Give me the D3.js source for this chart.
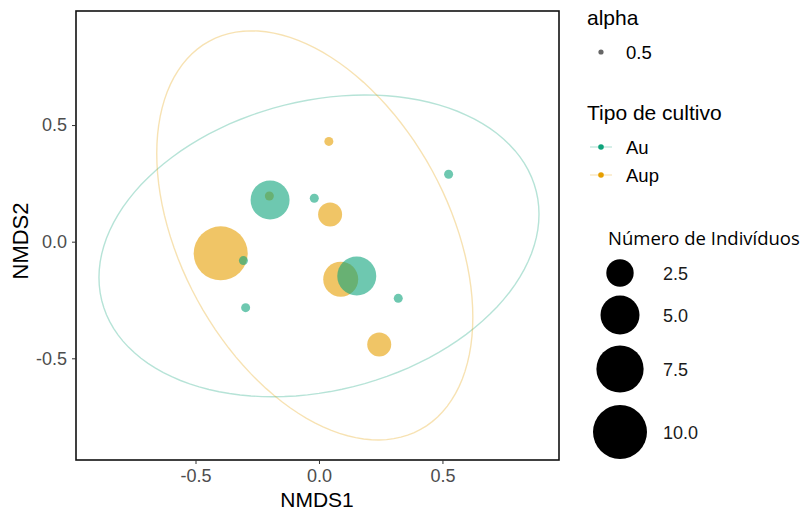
<!DOCTYPE html>
<meta charset="utf-8">
<style>
  body { margin: 0; background: #fff; }
  text { font-family: "Liberation Sans", Arial, sans-serif; }
  .tick text { fill: #4d4d4d; font-size: 18px; }
  .tick line { stroke: #333; }
  .domain { display: none; }
</style>
<svg width="804" height="510"></svg>
<script src="https://d3js.org/d3.v7.min.js"></script>
<script>

// Au (teal)
var auX = [0.525, -0.198, -0.019, -0.306, -0.297, 0.153, 0.321];
var auY = [0.289, 0.179, 0.186, -0.081, -0.283, -0.147, -0.243];
var auN = [1, 5, 1, 1, 1, 5, 1];

// Aup (orange)
var aupX = [0.040, 0.045, -0.398, 0.088, 0.244, -0.201];
var aupY = [0.430, 0.117, -0.050, -0.161, -0.441, 0.196];
var aupN = [1, 2, 10, 4, 2, 1];

var groups = ["Au", "Aup"];
var colors = ["#0ea37b", "#e69f00"];

// ellipses: center, half extents, correlation
var ellCx = [0.0, -0.017];
var ellCy = [-0.018, 0.027];
var ellXr = [0.891, 0.640];
var ellYr = [0.647, 0.877];
var ellRho = [0.21, -0.40];

var tickVals = [-0.5, 0, 0.5];
var sizeBreaks = [2.5, 5, 7.5, 10];

var svg = d3.select("svg");
var pLeft = 76, pRight = 559, pTop = 11, pBottom = 460;

var x = d3.scaleLinear().domain([-0.984, 0.972]).range([pLeft, pRight]);
var y = d3.scaleLinear().domain([-0.936, 0.989]).range([pBottom, pTop]);

var sizeT = d3.scaleLinear().domain([1, 10]).range([0, 1]);
var sizeR = d3.scaleSqrt().domain([0, 1]).range([4.5, 27]);
function rad(n) { return sizeR(sizeT(n)); }

svg.append("rect").attr("width", 804).attr("height", 510).attr("fill", "#fff");

var data = [];
aupX.forEach(function(v, i) { data.push({g: 1, x: v, y: aupY[i], n: aupN[i]}); });
auX.forEach(function(v, i) { data.push({g: 0, x: v, y: auY[i], n: auN[i]}); });

// ellipses
var line = d3.line().x(function(d) { return x(d[0]); }).y(function(d) { return y(d[1]); }).curve(d3.curveLinearClosed);
groups.forEach(function(g, k) {
  var pts = d3.range(0, 120).map(function(i) {
    var t = i / 120 * 2 * Math.PI;
    return [ellCx[k] + ellXr[k] * Math.cos(t),
            ellCy[k] + ellYr[k] * (ellRho[k] * Math.cos(t) + Math.sqrt(1 - ellRho[k] * ellRho[k]) * Math.sin(t))];
  });
  svg.append("path").attr("d", line(pts))
    .attr("fill", "none").attr("stroke", colors[k])
    .attr("stroke-opacity", 0.3).attr("stroke-width", 1.4);
});

svg.selectAll(".pt").data(data).enter().append("circle")
  .attr("class", "pt")
  .attr("cx", function(d) { return x(d.x); })
  .attr("cy", function(d) { return y(d.y); })
  .attr("r", function(d) { return rad(d.n); })
  .attr("fill", function(d) { return colors[d.g]; })
  .attr("fill-opacity", 0.6);

// panel border
svg.append("rect").attr("x", pLeft).attr("y", pTop)
  .attr("width", pRight - pLeft).attr("height", pBottom - pTop)
  .attr("fill", "none").attr("stroke", "#111").attr("stroke-width", 1.6);

var fmt = function(d) { return d.toFixed(1); };
svg.append("g").attr("transform", "translate(0," + pBottom + ")")
  .call(d3.axisBottom(x).tickValues(tickVals).tickFormat(fmt).tickSize(4).tickPadding(5.5))
  .attr("font-family", null).attr("font-size", null);
svg.append("g").attr("transform", "translate(" + pLeft + ",0)")
  .call(d3.axisLeft(y).tickValues(tickVals).tickFormat(fmt).tickSize(4).tickPadding(5))
  .attr("font-family", null).attr("font-size", null);

svg.append("text").attr("x", 317).attr("y", 507).attr("text-anchor", "middle")
  .attr("font-size", 21).text("NMDS1");
svg.append("text").attr("transform", "translate(28,241) rotate(-90)").attr("text-anchor", "middle")
  .attr("font-size", 22).text("NMDS2");

// legends
var lg = svg.append("g");
lg.append("text").attr("x", 587).attr("y", 25).attr("font-size", 21).text("alpha");
lg.append("circle").attr("cx", 601).attr("cy", 52).attr("r", 2.6).attr("fill", "#666");
lg.append("text").attr("x", 626).attr("y", 58.5).attr("font-size", 18.5).text("0.5");

lg.append("text").attr("x", 587).attr("y", 120).attr("font-size", 21).text("Tipo de cultivo");
groups.forEach(function(g, k) {
  var cy = 147 + k * 28;
  lg.append("line").attr("x1", 590).attr("x2", 612).attr("y1", cy).attr("y2", cy)
    .attr("stroke", colors[k]).attr("stroke-opacity", 0.25).attr("stroke-width", 1.4);
  lg.append("circle").attr("cx", 601).attr("cy", cy).attr("r", 2.8).attr("fill", colors[k]);
  lg.append("text").attr("x", 626).attr("y", cy + 6.5).attr("font-size", 18.5).text(g);
});

lg.append("text").attr("x", 608).attr("y", 245).attr("font-size", 18.5)
  .style("font-family", "'Open Sans', 'Noto Sans', sans-serif").text("Número de Indivíduos");
var sizeY = [273, 315, 369, 432];
sizeBreaks.forEach(function(b, i) {
  lg.append("circle").attr("cx", 620).attr("cy", sizeY[i]).attr("r", rad(b)).attr("fill", "#000");
  lg.append("text").attr("x", 663).attr("y", sizeY[i] + 6.5).attr("font-size", 18)
    .attr("fill", "#1a1a1a").text(b.toFixed(1));
});

</script>
